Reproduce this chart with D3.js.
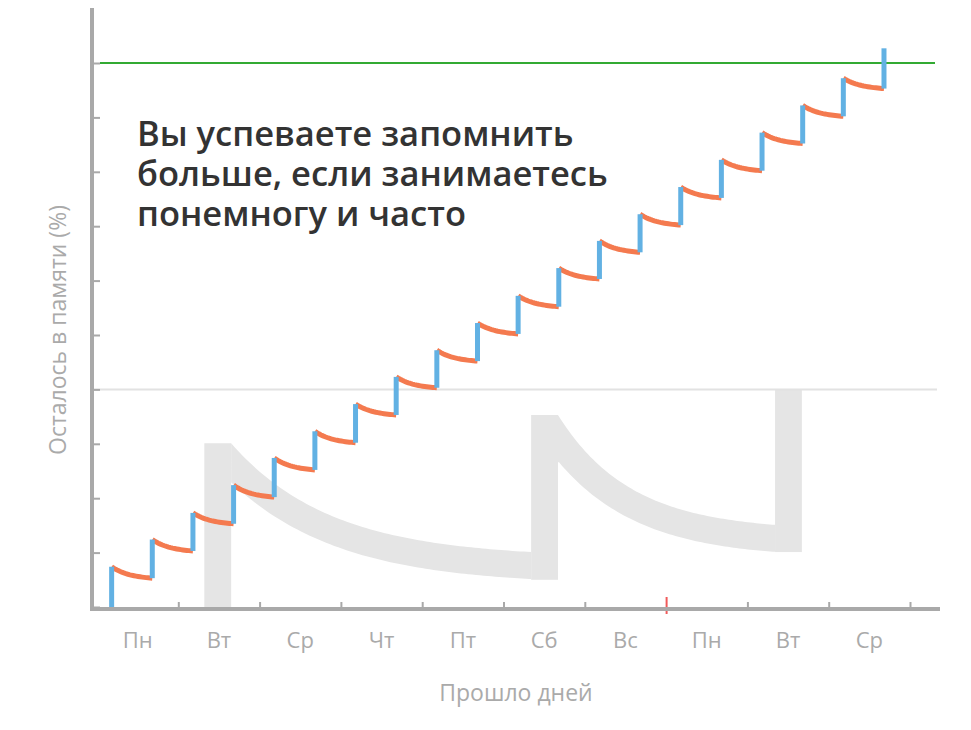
<!DOCTYPE html>
<html><head><meta charset="utf-8">
<script src="https://cdn.jsdelivr.net/npm/d3@7"></script>
<style>body{margin:0;background:#fff}svg{display:block}</style>
</head><body><svg id="c" width="971" height="730"></svg>
<script>
const dayLabels = ["Пн","Вт","Ср","Чт","Пт","Сб","Вс","Пн","Вт","Ср"];
const yTicks = [0,10,20,30,40,50,60,70,80,90,100];
const targetLevel = 100;
const referenceLevel = 40;
const markerDay = 7;
// review moments (days), level right after review (%), level just before review (%)
const reviewDays = [0.18,0.68,1.18,1.68,2.18,2.68,3.18,3.68,4.18,4.68,5.18,5.68,6.18,6.68,7.18,7.68,8.18,8.68,9.18,9.68];
const levelAfter = [7.4,12.4,17.3,22.4,27.4,32.3,37.3,42.3,47.2,52.2,57.2,62.3,67.3,72.2,77.2,82.2,87.2,92.2,97.2,102.7];
const levelBefore = [0,5.3,10.3,15.3,20.2,25.2,30.2,35.3,40.3,45.2,50.2,55.2,60.3,65.2,70.2,75.2,80.2,85.2,90.2,95.3];
// background "forgetting" shape: bars [x0,x1,yBottom,yTop], curves [x0,yTop0,x1,yTop1]
const bgBars = [[1.32,1.65,0,30.1],[5.34,5.67,5.0,35.3],[8.34,8.67,10.1,40]];
const bgCurves = [[1.65,30.1,5.34,10.1],[5.67,35.3,8.34,15.1]];

const svg = d3.select("#c");
const x = d3.scaleLinear().domain([0,10]).range([97,910]);
const y = d3.scaleLinear().domain([0,100]).range([607,63]);
const grey="#a9a9a9";

// background shape
const k=3, f=t=>(Math.exp(-k*t)-Math.exp(-k))/(1-Math.exp(-k));
bgBars.forEach(b=>svg.append("rect").attr("x",x(b[0])).attr("width",x(b[1])-x(b[0]))
  .attr("y",y(b[3])).attr("height",y(b[2])-y(b[3])).attr("fill","#e5e5e5"));
bgCurves.forEach(c=>{
  const x0=x(c[0]),y0=y(c[1]),x1=x(c[2]),y1=y(c[3]);
  const n=80, outer=[];
  for(let i=0;i<=n;i++){const t=i/n;outer.push([x0+(x1-x0)*t, y1+(y0-y1)*f(t)]);}
  let inner=outer.map((p,i)=>{
    const a=outer[Math.max(0,i-1)], b=outer[Math.min(n,i+1)];
    const dx=b[0]-a[0], dy=b[1]-a[1]; const L=Math.hypot(dx,dy);
    return [p[0]-dy/L*27, p[1]+dx/L*27];
  }).filter(p=>p[0]>=x0 && p[0]<=x1);
  inner.unshift([x0, inner[0][1]]);
  inner.push([x1,y1+27]);
  const pts=outer.concat(inner.reverse());
  svg.append("path").attr("d",d3.line()(pts)+"Z").attr("fill","#e5e5e5");
});

// grid lines
svg.append("line").attr("x1",94).attr("x2",937).attr("y1",y(referenceLevel)).attr("y2",y(referenceLevel)).attr("stroke","#e2e2e2").attr("stroke-width",2);
svg.append("line").attr("x1",100).attr("x2",935).attr("y1",y(targetLevel)).attr("y2",y(targetLevel)).attr("stroke","#33aa33").attr("stroke-width",2);

// axes
const xa=svg.append("g").attr("transform","translate(0,609)")
  .call(d3.axisTop(x).tickValues(d3.range(1,11)).tickSize(7).tickFormat(""));
xa.select(".domain").remove();
xa.selectAll("line").attr("stroke",grey).attr("stroke-width",2);
xa.selectAll(".tick").filter(d=>d===markerDay).select("line").attr("stroke","#f05a5a").attr("y2",-12).attr("y1",5);
svg.append("line").attr("x1",90).attr("x2",940).attr("y1",609).attr("y2",609).attr("stroke",grey).attr("stroke-width",4);
const ya=svg.append("g").attr("transform","translate(92,0)")
  .call(d3.axisRight(y).tickValues(yTicks).tickSize(8).tickFormat(""));
ya.select(".domain").remove();
ya.selectAll("line").attr("stroke",grey).attr("stroke-width",2);
svg.append("line").attr("x1",92).attr("x2",92).attr("y1",8).attr("y2",611).attr("stroke",grey).attr("stroke-width",4);

svg.append("g").selectAll("text").data(dayLabels).join("text")
  .attr("x",(d,i)=>x(i+0.5)).attr("y",648).attr("text-anchor","middle")
  .attr("font-family","Open Sans").attr("font-size",22).attr("fill","#aaa").text(d=>d);
svg.append("text").attr("x",516).attr("y",701).attr("text-anchor","middle")
  .attr("font-family","Open Sans").attr("font-size",23).attr("fill","#aaa").text("Прошло дней");
svg.append("text").attr("transform","translate(66,330) rotate(-90)").attr("text-anchor","middle")
  .attr("font-family","Open Sans").attr("font-size",23).attr("fill","#aaa").text("Осталось в памяти (%)");

// decay curves (orange)
const kd=2.2, fd=t=>(Math.exp(-kd*t)-Math.exp(-kd))/(1-Math.exp(-kd));
reviewDays.forEach((d,i)=>{
  if(i===reviewDays.length-1) return;
  const d1 = reviewDays[i+1];
  const top=levelAfter[i], bot=levelBefore[i+1];
  const pts=d3.range(0,1.0001,0.05).map(t=>[x(d+(d1-d)*t), y(bot+(top-bot)*fd(t))]);
  svg.append("path").attr("d",d3.line()(pts)).attr("fill","none").attr("stroke","#f47a4f").attr("stroke-width",5);
});
// review jumps (blue)
svg.append("g").selectAll("line").data(reviewDays).join("line")
  .attr("x1",d=>x(d)).attr("x2",d=>x(d))
  .attr("y1",(d,i)=>y(levelBefore[i])).attr("y2",(d,i)=>y(levelAfter[i]))
  .attr("stroke","#62b1e3").attr("stroke-width",5);

// headline
const lines=["Вы успеваете запомнить","больше, если занимаетесь","понемногу и часто"];
svg.append("g").selectAll("text").data(lines).join("text")
  .attr("x",137).attr("y",(d,i)=>146+i*40)
  .attr("font-family","Open Sans").attr("font-weight",600).attr("font-size",34.5).attr("fill","#333").text(d=>d);
</script></body></html>
